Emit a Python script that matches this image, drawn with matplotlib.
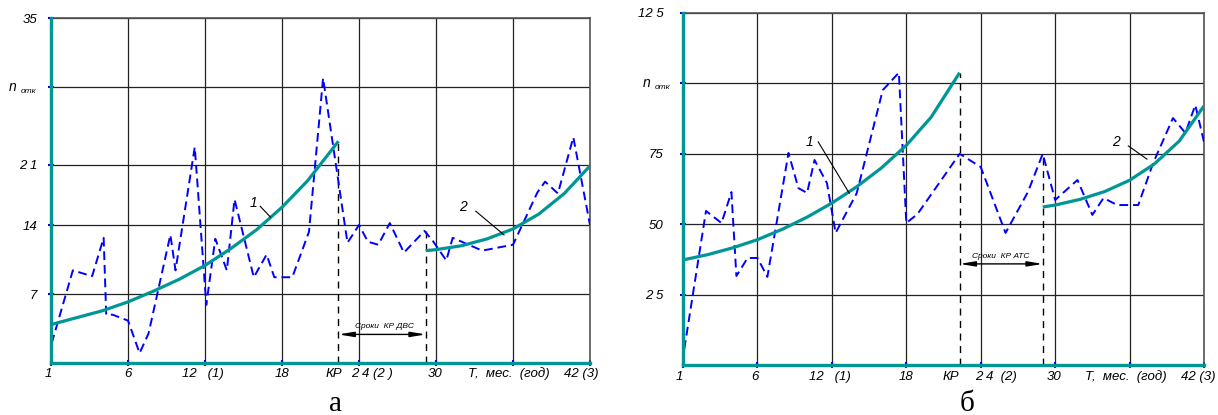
import matplotlib
matplotlib.use('Agg')
import matplotlib.pyplot as plt

# --- данные: левый график (а), отказы ДВС ---
left_x = [0.05, 1.7, 3.2, 4.1, 4.3, 4.8, 6.0, 6.9, 7.6, 9.3, 9.7, 11.2, 12.1, 12.8, 13.7,
          14.3, 15.8, 16.8, 17.4, 18.8, 20.1, 21.2, 23.1, 24.0, 24.7, 25.5, 26.4, 27.5,
          29.1, 29.8, 30.8, 31.3, 33.6, 36.0, 37.9, 38.5, 39.5, 40.7, 42.0]
left_y = [2.0, 9.4, 8.8, 12.7, 4.9, 4.9, 4.3, 1.0, 3.0, 13.0, 9.4, 21.9, 5.9, 12.6, 9.4,
          16.6, 8.7, 11.0, 8.7, 8.7, 13.3, 28.9, 12.2, 14.0, 12.3, 12.0, 14.2, 11.2,
          13.4, 12.3, 10.4, 12.7, 11.4, 12.0, 17.3, 18.4, 17.2, 22.9, 14.0]
left_c1_x = [0, 2, 4, 6, 8, 10, 12, 14, 16, 18, 20, 22.4]
left_c1_y = [3.9, 4.6, 5.3, 6.2, 7.3, 8.5, 9.9, 11.6, 13.5, 15.8, 18.5, 22.5]
left_c2_x = [29.2, 30, 32, 34, 36, 38, 40, 42]
left_c2_y = [11.4, 11.5, 11.9, 12.6, 13.6, 15.1, 17.2, 20.0]
left_kr = [22.4, 29.2]
left_kr_top = [22.5, 13.4]

# --- данные: правый график (б), отказы АТС ---
right_x = [0.1, 1.85, 3.1, 3.9, 4.3, 5.2, 6.0, 6.8, 8.5, 9.3, 10.0, 10.6, 11.6, 12.3,
           14.0, 16.1, 17.4, 18.0, 18.9, 22.3, 24.0, 25.0, 26.0, 27.8, 29.0, 30.0,
           31.8, 33.0, 33.9, 35.0, 36.7, 37.9, 39.5, 40.5, 41.3, 42.0]
right_y = [5.7, 54.7, 50.4, 61.4, 31.6, 38.0, 38.0, 31.3, 75.3, 62.8, 61.1, 72.8, 64.6, 46.9,
           61.0, 97.6, 103.8, 50.4, 53.6, 75.0, 70.3, 58.6, 46.9, 61.4, 75.0, 58.6,
           65.7, 53.3, 59.3, 56.8, 56.8, 71.7, 87.7, 82.4, 92.3, 79.2]
right_c1_x = [0, 2, 4, 6, 8, 10, 12, 14, 16, 18, 20, 22.3]
right_c1_y = [37.3, 39.2, 41.6, 44.5, 48.2, 52.5, 57.5, 63.3, 70.0, 78.0, 88.0, 103.8]
right_c2_x = [29.0, 30, 32, 34, 36, 38, 40, 42]
right_c2_y = [56.1, 56.8, 58.8, 61.6, 65.6, 71.4, 79.5, 92.0]
right_kr = [22.3, 29.0]
right_kr_top = [103.8, 75.0]

TEAL = '#009696'
BLUE = '#0000ff'
FONT = 'Liberation Sans'
FS = 9.5

fig = plt.figure(figsize=(12.18, 4.15), dpi=100)
ax1 = fig.add_axes([0.0419, 0.1253, 0.4425, 0.8313])
ax2 = fig.add_axes([0.5608, 0.1205, 0.4277, 0.8482])


def setup(ax, ymax, yticks, ylabels, ypad):
    ax.set_xlim(0, 42)
    ax.set_ylim(0, ymax)
    ax.set_xticks(range(0, 43, 6))
    ax.set_xticklabels([])
    ax.set_yticks(yticks)
    ax.set_yticklabels(ylabels, fontstyle='italic', family=FONT, fontsize=FS)
    ax.tick_params(axis='both', color=BLUE, length=4, width=1.5, direction='inout')
    ax.tick_params(axis='y', pad=ypad)
    ax.grid(True, color='#222222', linewidth=0.9)
    ax.set_axisbelow(True)
    for s in ['left', 'bottom']:
        ax.spines[s].set_color(TEAL)
        ax.spines[s].set_linewidth(2.4)
        ax.spines[s].set_zorder(5)
    for s in ['top', 'right']:
        ax.spines[s].set_color('#555555')
        ax.spines[s].set_linewidth(1.2)


def draw(ax, bx, by, c1x, c1y, c2x, c2y, kr, kr_top):
    ax.plot(bx, by, color=BLUE, lw=1.4, dashes=(4.5, 2.5), zorder=3)
    ax.plot(c1x, c1y, color=TEAL, lw=2.3, zorder=4, solid_capstyle='butt')
    ax.plot(c2x, c2y, color=TEAL, lw=2.3, zorder=4, solid_capstyle='butt')
    for x, top in zip(kr, kr_top):
        ax.plot([x, x], [0, top], color='black', lw=1.0, dashes=(5, 4), zorder=2)


def xlabels(ax, items, dy):
    for x, t in items:
        ax.annotate(t, xy=(x, 0), xycoords=ax.get_xaxis_transform(),
                    xytext=(0, dy), textcoords='offset pixels', ha='center', va='center',
                    fontstyle='italic', family=FONT, fontsize=FS)


def nlabel(ax, yval, dx):
    ax.annotate('n', xy=(0, yval), xycoords=ax.get_yaxis_transform(),
                xytext=(dx, 0), textcoords='offset pixels', ha='center', va='center',
                fontstyle='italic', family=FONT, fontsize=10)
    ax.annotate('отк', xy=(0, yval), xycoords=ax.get_yaxis_transform(),
                xytext=(dx + 15, -4), textcoords='offset pixels', ha='center', va='center',
                fontstyle='italic', family=FONT, fontsize=6)


def krono(ax, kr, y_arrow, y_text, x_text, label):
    ax.annotate('', xy=(kr[0], y_arrow), xytext=(kr[1], y_arrow),
                arrowprops=dict(arrowstyle='<|-|>,head_length=0.9,head_width=0.15',
                                color='black', lw=1.0, shrinkA=0, shrinkB=0))
    ax.text(x_text, y_text, label, ha='center', va='center', fontstyle='italic',
            family=FONT, fontsize=6)


def leader(ax, tx, ty, x0, y0, x1, y1, t):
    ax.text(tx, ty, t, ha='center', va='center', fontstyle='italic', family=FONT, fontsize=10)
    ax.plot([x0, x1], [y0, y1], color='black', lw=0.8, zorder=6)


# (а)
setup(ax1, 35, [7, 14, 20.1, 28, 35], ['7', '14', '2 1', '', '35'], 8)
draw(ax1, left_x, left_y, left_c1_x, left_c1_y, left_c2_x, left_c2_y, left_kr, left_kr_top)
nlabel(ax1, 28, -38)
xlabels(ax1, [(-0.2, '1'), (6, '6'), (11.8, '12   (1)'), (18, '18'), (22.05, 'КР'),
              (25.0, '2 4 (2 )'), (29.9, '30'), (35.7, 'Т,  мес.  (год)'), (41.3, '42 (3)')], -11)
krono(ax1, left_kr, 2.9, 3.7, 26.0, 'Сроки  КР ДВС')
leader(ax1, 15.8, 16.2, 16.3, 15.9, 17.1, 14.8, '1')
leader(ax1, 32.1, 15.8, 33.1, 15.4, 35.3, 13.0, '2')

# (б)
setup(ax2, 125, [25, 50, 75, 100, 125], ['2 5', '50', '75', '', '12 5'], 12)
draw(ax2, right_x, right_y, right_c1_x, right_c1_y, right_c2_x, right_c2_y, right_kr, right_kr_top)
nlabel(ax2, 100, -36)
xlabels(ax2, [(-0.3, '1'), (5.8, '6'), (11.8, '12   (1)'), (18, '18'), (21.6, 'КР'),
              (25.2, '2 4  (2)'), (29.9, '30'), (35.7, 'Т,  мес.  (год)'), (41.5, '42 (3)')], -12)
krono(ax2, right_kr, 35.9, 38.6, 25.6, 'Сроки  КР АТС')
leader(ax2, 10.2, 79.2, 10.9, 79.2, 13.4, 61.0, '1')
leader(ax2, 34.9, 79.2, 35.9, 77.8, 37.4, 73.1, '2')

# подписи панелей
fig.text(336 / 1218, 1 - 411 / 415, 'а', ha='center', va='baseline', family='Liberation Serif', fontsize=21)
fig.text(967 / 1218, 1 - 411 / 415, 'б', ha='center', va='baseline', family='Liberation Serif', fontsize=21)

fig.savefig('out.png', dpi=100)
